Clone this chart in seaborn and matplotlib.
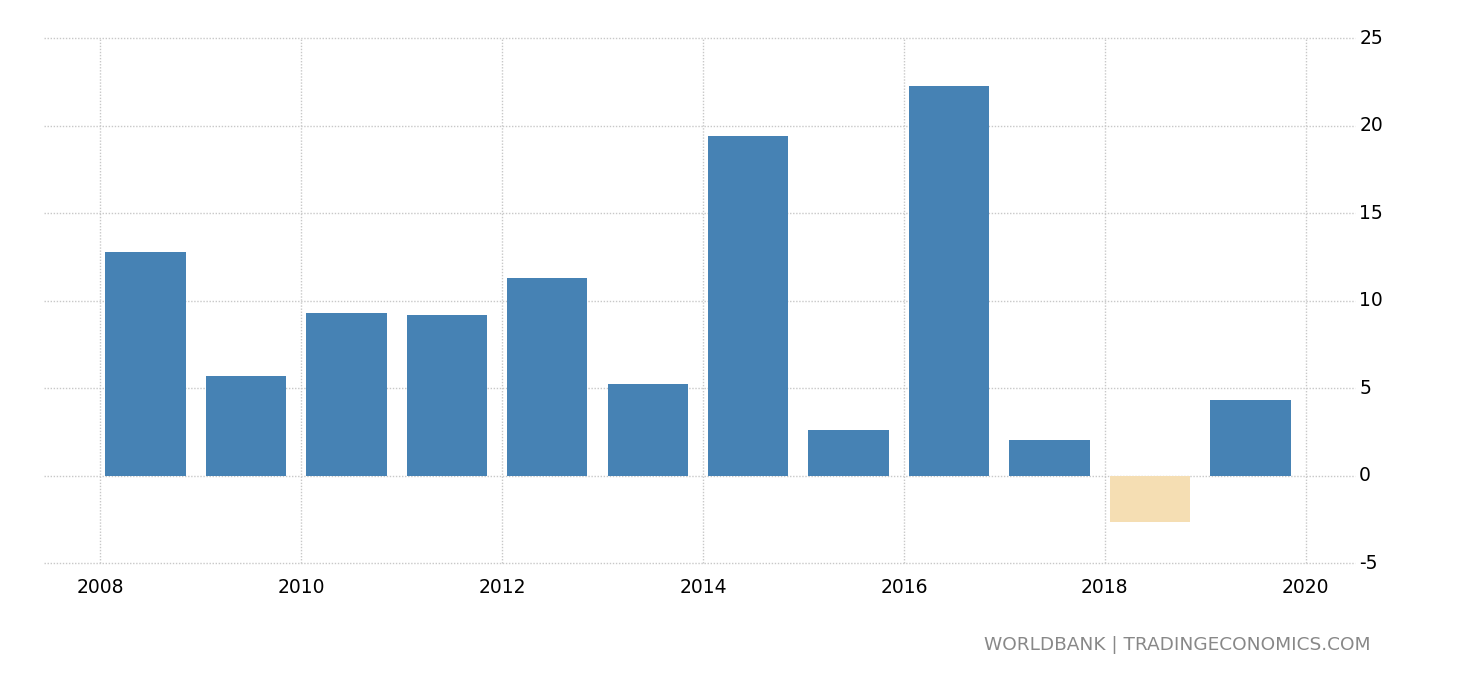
import numpy as np
import pandas as pd
import matplotlib
matplotlib.use("Agg")
import matplotlib.pyplot as plt
import seaborn as sns

# Данные
years = [2008, 2009, 2010, 2011, 2012, 2013, 2014, 2015, 2016, 2017, 2018, 2019]
values = [12.8, 5.7, 9.3, 9.2, 11.3, 5.25, 19.4, 2.63, 22.25, 2.05, -2.63, 4.34]
x_ticks = [2008, 2010, 2012, 2014, 2016, 2018, 2020]
y_ticks = [-5, 0, 5, 10, 15, 20, 25]
source_text = "WORLDBANK | TRADINGECONOMICS.COM"

df = pd.DataFrame({"year": years, "value": values})
# столбик рисуется внутри года (от начала года)
df["pos"] = df["year"] + 0.45
df["sign"] = np.where(df["value"] >= 0, "pos", "neg")

sns.set_style("white")
plt.rcParams["font.family"] = ["DejaVu Sans"]

fig = plt.figure(figsize=(14.6, 6.8), dpi=100)
ax = fig.add_axes([0.0301, 0.172, 0.898, 0.772])

sns.barplot(data=df, x="pos", y="value", hue="sign",
            palette={"pos": "#4682B4", "neg": "#F5DEB3"},
            native_scale=True, dodge=False, width=0.8,
            legend=False, saturation=1, linewidth=0, ax=ax)

ax.set_xlim(2007.44, 2020.49)
ax.set_ylim(-5, 25)
ax.set_xticks(x_ticks)
ax.set_xticklabels([str(t) for t in x_ticks])
ax.set_yticks(y_ticks)
ax.set_yticklabels([str(t) for t in y_ticks])
ax.yaxis.tick_right()
ax.set_xlabel("")
ax.set_ylabel("")

ax.grid(True, color="#c8c8c8", linestyle=(0, (1, 1.2)), linewidth=1)
ax.set_axisbelow(True)
for gl in ax.get_xgridlines() + ax.get_ygridlines():
    gl.set_clip_on(False)
for s in ax.spines.values():
    s.set_visible(False)

ax.tick_params(axis="x", length=8, color="#cccccc", width=1,
               labelsize=13.5, pad=3, labelcolor="black")
ax.tick_params(axis="y", length=0, labelsize=13.5, pad=3, labelcolor="black")
for lab in ax.get_yticklabels():
    lab.set_verticalalignment("center")

fig.text(0.939, 0.052, source_text, ha="right", va="center",
         fontsize=13.3, color="#888888")

fig.savefig("out.png", dpi=100)
